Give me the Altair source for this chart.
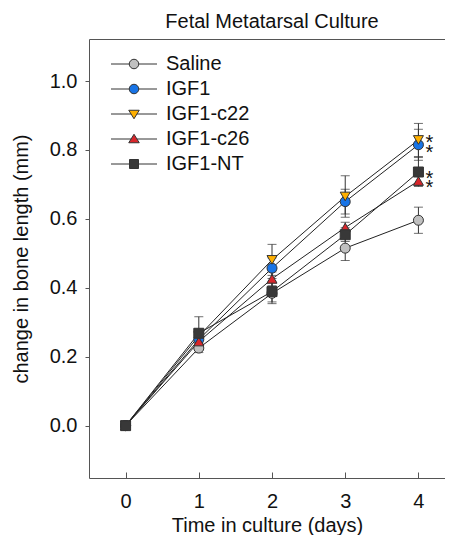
import altair as alt
import pandas as pd

# ---------------- data ----------------
series = ["Saline", "IGF1", "IGF1-c22", "IGF1-c26", "IGF1-NT"]
days = [0, 1, 2, 3, 4]

saline_mean = [0.0, 0.225, 0.384, 0.515, 0.596]
igf1_mean = [0.0, 0.250, 0.457, 0.650, 0.815]
c22_mean = [0.0, 0.260, 0.481, 0.665, 0.829]
c26_mean = [0.0, 0.244, 0.426, 0.575, 0.710]
nt_mean = [0.0, 0.268, 0.389, 0.554, 0.736]

saline_sem = [0.0, 0.013, 0.030, 0.036, 0.038]
igf1_sem = [0.0, 0.020, 0.030, 0.036, 0.045]
c22_sem = [0.0, 0.020, 0.045, 0.060, 0.048]
c26_sem = [0.0, 0.015, 0.020, 0.015, 0.013]
nt_sem = [0.0, 0.048, 0.030, 0.020, 0.042]

star_series = ["IGF1-c22", "IGF1", "IGF1-NT", "IGF1-c26"]
star_level = [0.819, 0.790, 0.717, 0.690]
star_day = 4

y_ticks = [0.0, 0.2, 0.4, 0.6, 0.8, 1.0]

colors = ["#c0c0c0", "#1874e6", "#ffb000", "#d9262b", "#383838"]
outline = ["#333333"] * 5
shapes = ["circle", "circle", "triangle-down", "triangle-up", "square"]
legend_paths = [
    "M-4.6,0H-0.95M0.95,0H4.6M0.95,0A0.95,0.95,0,1,1,-0.95,0A0.95,0.95,0,1,1,0.95,0Z",
    "M-4.6,0H-0.95M0.95,0H4.6M0.95,0A0.95,0.95,0,1,1,-0.95,0A0.95,0.95,0,1,1,0.95,0Z",
    "M-4.6,0H-0.6M0.6,0H4.6M-1.05,-0.75L1.05,-0.75L0,0.95Z",
    "M-4.6,0H-0.6M0.6,0H4.6M-1.05,0.75L1.05,0.75L0,-0.95Z",
    "M-4.6,0H-0.9M0.9,0H4.6M-0.9,-0.9H0.9V0.9H-0.9Z",
]

mean_lists = [saline_mean, igf1_mean, c22_mean, c26_mean, nt_mean]
sem_lists = [saline_sem, igf1_sem, c22_sem, c26_sem, nt_sem]

rows, caps = [], []
for s, ms, ss in zip(series, mean_lists, sem_lists):
    for d, m, e in zip(days, ms, ss):
        rows.append({"series": s, "day": d, "mean": m, "lo": m - e, "hi": m + e})
        if e > 0:
            caps.append({"series": s, "day": d, "bound": m - e})
            caps.append({"series": s, "day": d, "bound": m + e})
df = pd.DataFrame(rows)
df_caps = pd.DataFrame(caps)
df_star = pd.DataFrame({"series": star_series, "day": [star_day] * len(star_series), "level": star_level})

FONT = "Liberation Sans"
xs = alt.Scale(domain=[-0.5, 4.363], nice=False, zero=False)
ys = alt.Scale(domain=[-0.152, 1.122], nice=False, zero=False)

lines = alt.Chart(df).mark_line(color="#222", strokeWidth=1).encode(
    x=alt.X("day:Q", scale=xs, axis=alt.Axis(orient="bottom", values=days, format="d", ticks=False,
                                             labelPadding=13, title="Time in culture (days)",
                                             titlePadding=4, grid=False)),
    y=alt.Y("mean:Q", scale=ys, axis=alt.Axis(orient="left", values=y_ticks, format=".1f", tickSize=4,
                                              labelPadding=8, title="change in bone length (mm)",
                                              titlePadding=18, grid=False)),
    detail="series:N",
)

errbars = alt.Chart(df).mark_rule(color="#333", strokeWidth=1).encode(
    x=alt.X("day:Q", scale=xs, axis=alt.Axis(orient="bottom", offset=-6, domain=False, labels=False,
                                             ticks=True, tickSize=6, title=None, grid=False, values=days)),
    y=alt.Y("lo:Q", scale=ys, axis=None),
    y2="hi:Q",
)

capmarks = alt.Chart(df_caps).mark_tick(orient="horizontal", color="#333", size=9, thickness=1).encode(
    x=alt.X("day:Q", scale=xs, axis=alt.Axis(orient="top", labels=False, ticks=False, title=None, grid=False)),
    y=alt.Y("bound:Q", scale=ys, axis=None),
)

points = alt.Chart(df).mark_point(filled=True, size=100, stroke="#333", strokeWidth=1, opacity=1).encode(
    x=alt.X("day:Q", scale=xs, axis=None),
    y=alt.Y("mean:Q", scale=ys, axis=None),
    fill=alt.Fill("series:N", scale=alt.Scale(domain=series, range=colors), legend=None),
    shape=alt.Shape("series:N", scale=alt.Scale(domain=series, range=shapes), legend=None),
)

stars = alt.Chart(df_star).mark_text(text="*", fontSize=20, dx=11, baseline="middle", font=FONT,
                                     color="#111").encode(
    x=alt.X("day:Q", scale=xs, axis=None),
    y=alt.Y("level:Q", scale=ys, axis=None),
)

leg = dict(title=None, orient="none", legendX=35, legendY=15, labelFontSize=20, labelFont=FONT,
           labelColor="#111", symbolSize=100, symbolStrokeWidth=1, labelOffset=22, rowPadding=5)

legend_layer = alt.Chart(df).transform_filter("false").mark_point(
    filled=True, strokeWidth=1, opacity=1).encode(
    x=alt.X("day:Q", scale=xs, axis=None),
    y=alt.Y("mean:Q", scale=ys, axis=None),
    fill=alt.Fill("series:N", scale=alt.Scale(domain=series, range=colors), legend=alt.Legend(**leg)),
    stroke=alt.Stroke("series:N", scale=alt.Scale(domain=series, range=outline), legend=alt.Legend(**leg)),
    shape=alt.Shape("series:N", scale=alt.Scale(domain=series, range=legend_paths), legend=alt.Legend(**leg)),
)

chart = alt.layer(lines, errbars, capmarks, points, stars, legend_layer).resolve_scale(
    fill="independent", shape="independent", stroke="independent"
).resolve_axis(x="independent", y="independent").properties(
    width=356, height=439,
    padding={"left": 81, "top": 31, "right": 0, "bottom": 57},
    autosize=alt.AutoSizeParams(type="none"),
    title=alt.TitleParams("Fetal Metatarsal Culture", fontSize=20, font=FONT, fontWeight="normal",
                          color="#111", offset=7, dx=5),
).configure_view(stroke=None).configure_axis(
    labelFont=FONT, titleFont=FONT, labelFontSize=20, titleFontSize=20, labelColor="#111",
    titleColor="#111", titleFontWeight="normal", domainColor="#555", tickColor="#555",
    domainWidth=1, tickWidth=1,
)

chart.save("out.html", embed_options={"renderer": "svg", "actions": False})
